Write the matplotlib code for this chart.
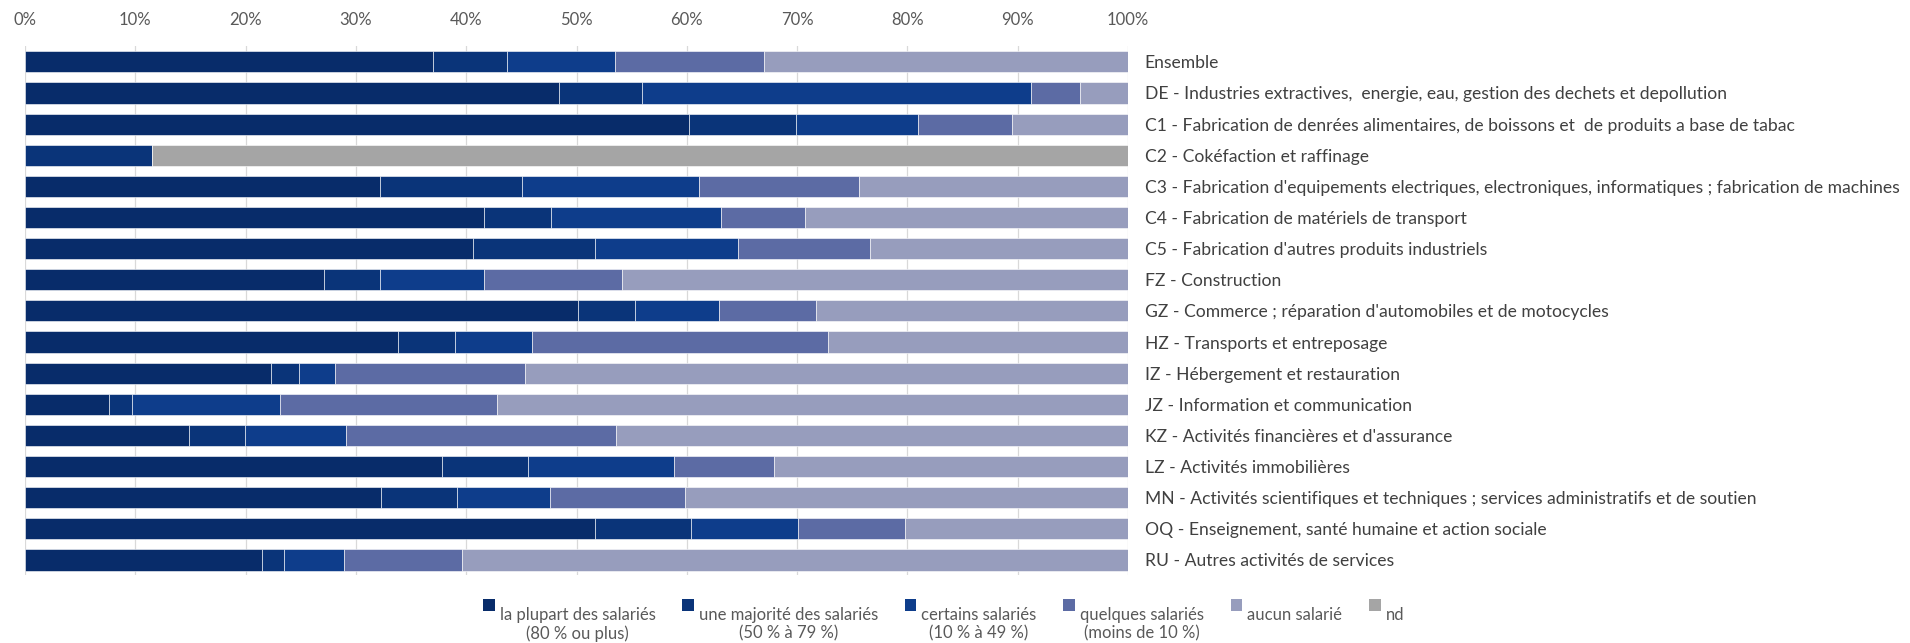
import matplotlib
matplotlib.use("Agg")
import matplotlib.pyplot as plt
from matplotlib.patches import Rectangle
from matplotlib.legend_handler import HandlerPatch
from matplotlib.container import BarContainer
import numpy as np

plt.rcParams['font.family'] = ['Lato', 'DejaVu Sans']

categories = [
    "Ensemble",
    "DE - Industries extractives,  energie, eau, gestion des dechets et depollution",
    "C1 - Fabrication de denrées alimentaires, de boissons et  de produits a base de tabac",
    "C2 - Cokéfaction et raffinage",
    "C3 - Fabrication d'equipements electriques, electroniques, informatiques ; fabrication de machines",
    "C4 - Fabrication de matériels de transport",
    "C5 - Fabrication d'autres produits industriels",
    "FZ - Construction",
    "GZ - Commerce ; réparation d'automobiles et de motocycles",
    "HZ - Transports et entreposage",
    "IZ - Hébergement et restauration",
    "JZ - Information et communication",
    "KZ - Activités financières et d'assurance",
    "LZ - Activités immobilières",
    "MN - Activités scientifiques et techniques ; services administratifs et de soutien",
    "OQ - Enseignement, santé humaine et action sociale",
    "RU - Autres activités de services",
]

# parts en %
plupart   = [37.0, 48.4, 60.2, 0.0, 32.2, 41.6, 40.6, 27.1, 50.1, 33.8, 22.3, 7.6, 14.9, 37.8, 32.3, 51.7, 21.5]
majorite  = [6.7, 7.5, 9.7, 11.5, 12.9, 6.1, 11.1, 5.1, 5.2, 5.2, 2.5, 2.1, 5.0, 7.8, 6.9, 8.7, 2.0]
certains  = [9.8, 35.3, 11.1, 0.0, 16.0, 15.4, 12.9, 9.4, 7.6, 7.0, 3.3, 13.4, 9.2, 13.2, 8.4, 9.7, 5.4]
quelques  = [13.5, 4.4, 8.5, 0.0, 14.5, 7.6, 12.0, 12.5, 8.8, 26.8, 17.2, 19.7, 24.5, 9.1, 12.2, 9.7, 10.7]
aucun     = [33.0, 4.4, 10.5, 0.0, 24.4, 29.3, 23.4, 45.9, 28.3, 27.2, 54.7, 57.2, 46.4, 32.1, 40.2, 20.2, 60.4]
nd        = [0.0, 0.0, 0.0, 88.5, 0.0, 0.0, 0.0, 0.0, 0.0, 0.0, 0.0, 0.0, 0.0, 0.0, 0.0, 0.0, 0.0]

series_labels = [
    "la plupart des salariés\n(80 % ou plus)",
    "une majorité des salariés\n(50 % à 79 %)",
    "certains salariés\n(10 % à 49 %)",
    "quelques salariés\n(moins de 10 %)",
    "aucun salarié\n ",
    "nd\n ",
]
colors = ['#082c6a', '#0a3479', '#0e3d8b', '#5c6ba4', '#979dbd', '#a5a5a5']

LEG_FS = 12

fig = plt.figure(figsize=(19.1, 6.43), dpi=100)
ax = fig.add_axes([0.0131, 0.105, 0.5775, 0.823])

y = np.arange(len(categories))
left = np.zeros(len(categories))
for vals, lab, col in zip([plupart, majorite, certains, quelques, aucun, nd], series_labels, colors):
    vals = np.array(vals)
    ax.barh(y, vals, left=left, height=0.68, color=col, label=lab,
            edgecolor='white', linewidth=0.4, zorder=3)
    left += vals

ax.set_xlim(0, 100)
ax.set_ylim(len(categories) - 0.5, -0.5)
ax.set_xticks(np.arange(0, 101, 10))
ax.set_xticklabels([f"{v}%" for v in range(0, 101, 10)])
ax.xaxis.tick_top()
ax.tick_params(axis='x', length=0, pad=13, labelsize=12, colors='#595959')
ax.grid(axis='x', color='#d9d9d9', linewidth=0.9, zorder=0)

ax.yaxis.tick_right()
ax.set_yticks(y)
ax.set_yticklabels(categories)
ax.tick_params(axis='y', length=0, pad=12, labelsize=12.6, colors='#404040')

for s in ax.spines.values():
    s.set_visible(False)


# carré de légende aligné sur la première ligne du texte
def top_square(legend, orig_handle, xdescent, ydescent, width, height, fontsize):
    return Rectangle((-xdescent, -ydescent + fontsize * 1.2), width, height)


def copy_style(leg_patch, orig_handle):
    leg_patch.update_from(orig_handle.patches[0])
    leg_patch.set_linewidth(0)


leg = fig.legend(loc='lower center', bbox_to_anchor=(0.494, -0.022), ncol=6,
                 frameon=False, fontsize=LEG_FS, handlelength=0.7, handleheight=0.7,
                 handletextpad=0.3, columnspacing=1.6, labelcolor='#595959',
                 handler_map={BarContainer: HandlerPatch(patch_func=top_square,
                                                         update_func=copy_style)})
for t in leg.get_texts():
    t.set_multialignment('center')

fig.savefig("out.png", dpi=100)
